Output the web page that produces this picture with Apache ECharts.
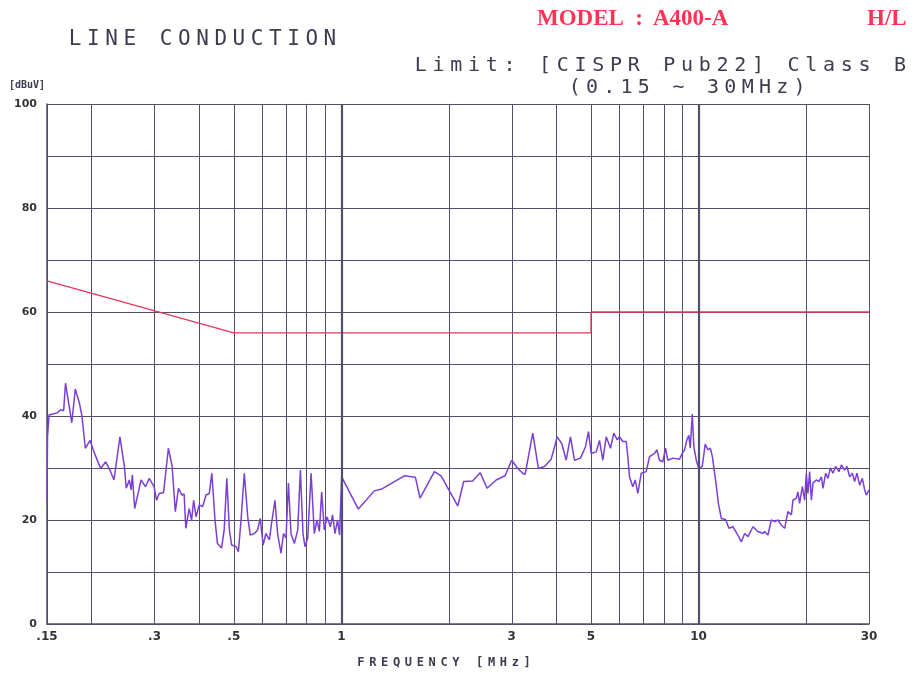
<!DOCTYPE html>
<html>
<head>
<meta charset="utf-8">
<script src="https://cdn.jsdelivr.net/npm/echarts@6/dist/echarts.min.js"></script>
<style>
html,body{margin:0;padding:0;background:#fff;}
#chart{width:917px;height:675px;}
</style>
</head>
<body>
<div id="chart"></div>
<script>
// grid / tick positions of the plotter sheet (MHz)
var gridFreqs=[0.15,0.2,0.3,0.4,0.5,0.6,0.7,0.8,0.9,1,2,3,4,5,6,7,8,9,10,20,30];
var labelFreqs=[0.15,0.3,0.5,1,3,5,10,30];
var labelTexts=['.15','.3','.5','1','3','5','10','30'];

// CISPR 22 class B limit
var limitFreqs=[0.15,0.5,5,5,30];
var limitLevels=[66,56,56,60,60];

// measured trace
var measFreqs=[
0.150,0.1505,0.152,0.160,0.164,0.167,0.169,0.176,0.180,0.185,0.188,0.192,0.198,0.203,0.212,0.219,0.225,0.231,0.240,0.247,
0.250,0.255,0.258,0.260,0.264,0.275,0.283,0.290,0.299,0.304,0.309,0.318,0.328,0.336,0.343,0.350,0.358,0.363,
0.367,0.375,0.381,0.386,0.392,0.400,0.409,0.418,0.427,0.434,0.443,0.450,0.462,0.470,0.478,0.486,0.493,0.507,0.515,0.524,
0.535,0.547,0.556,0.571,0.583,0.593,0.604,0.615,0.629,0.638,0.652,0.663,0.678,0.689,0.700,0.711,0.723,0.739,0.755,0.768,
0.781,0.791,0.805,0.823,0.840,0.855,0.868,0.881,0.896,0.912,0.932,0.945,0.960,0.976,0.989,1.002,
1.116,1.237,1.292,1.501,1.612,1.661,1.822,1.902,2.118,2.201,2.332,2.446,2.559,2.713,2.874,2.999,
3.118,3.220,3.270,3.435,3.563,3.704,3.867,3.933,4.020,4.141,4.260,4.380,4.494,4.672,4.825,4.919,5.005,5.169,5.281,5.394,
5.514,5.669,5.790,5.919,6.007,6.137,6.273,6.339,6.408,6.546,6.648,6.761,6.911,7.137,7.290,
7.529,7.641,7.776,7.943,8.082,8.203,8.472,8.847,9.002,9.136,9.272,9.392,9.478,9.603,9.701,9.854,10.02,10.24,10.44,10.62,
10.79,10.93,11.16,11.36,11.58,11.90,12.16,12.48,12.81,13.18,13.46,13.75,14.20,14.66,15.14,
15.30,15.64,15.98,16.33,16.68,17.05,17.42,17.79,18.19,18.37,18.78,18.97,19.18,19.52,19.81,20.03,20.24,20.46,20.69,20.91,
21.36,21.73,22.07,22.30,22.69,23.03,23.38,23.78,24.20,24.72,25.10,25.64,26.03,26.48,26.95,27.35,27.76,28.25,28.74,29.17,
29.49,30.00];
var measLevels=[
23.5,36,40.2,40.6,41.2,41.0,46.3,38.7,45.2,42.4,39.9,33.8,35.3,33.1,29.9,31.2,29.6,27.7,36.0,30.3,
26.1,27.7,25.8,28.7,22.2,27.7,26.4,28.0,26.4,23.8,25.1,25.3,33.8,30.3,21.6,26.1,24.8,25.0,
18.4,22.2,20.0,23.8,20.6,22.9,22.6,24.8,25.1,29.0,20.0,15.5,14.6,18.1,28.0,18.1,15.2,14.9,13.9,20.0,
29.0,20.6,17.1,17.4,18.1,20.3,15.2,17.4,16.2,19.4,23.8,17.4,13.6,17.4,16.5,27.1,17.4,15.5,18.1,29.6,
17.4,14.9,16.5,29.0,17.4,20.0,17.8,25.4,18.1,20.6,18.7,21.0,17.4,20.0,17.1,28.3,
22.1,25.6,25.9,28.5,28.2,24.2,29.3,28.5,22.7,27.4,27.5,29.1,26.1,27.7,28.5,31.5,
29.9,29.0,28.8,36.7,29.9,30.3,31.7,33.5,36.0,34.7,31.5,36.0,31.5,31.9,34.1,37.0,32.8,33.1,35.3,31.5,
36.0,33.8,36.7,35.4,36.0,35.1,35.1,32.2,28.3,26.4,27.7,25.1,29.0,29.3,32.2,
32.8,33.5,31.5,31.2,33.8,31.5,31.9,31.7,32.8,33.5,35.4,36.3,33.8,40.4,34.1,31.5,29.9,30.3,34.6,33.5,
33.8,32.2,27.7,23.2,20.3,20.1,18.4,18.7,17.4,15.8,17.4,16.8,18.7,17.8,17.4,
17.8,17.1,20.0,19.7,20.0,19.0,18.4,21.6,21.0,23.8,24.2,25.4,23.2,26.4,23.8,29.0,25.1,29.3,23.8,27.1,
27.7,27.4,28.3,26.1,29.0,28.0,30.0,29.0,30.3,29.3,30.6,29.6,30.3,28.3,29.0,27.4,29.0,26.7,28.0,25.8,
24.8,25.8];

function pairs(xs,ys){
	var out=[];
	for(var i=0;i<xs.length;i++){out.push([xs[i],ys[i]]);}
	return out;
}
// plotter style lettering: one glyph per fixed cell
function spacedText(str,x0,y,step,font,color){
	var list=[];
	for(var i=0;i<str.length;i++){
		if(str[i]==' ')continue;
		list.push({type:'text',x:x0+i*step+step/2,y:y,silent:true,
			style:{text:str[i],font:font,fill:color,align:'center',verticalAlign:'middle',textAlign:'center',textVerticalAlign:'middle'}});
	}
	return list;
}
function plainText(str,x,y,font,color,align){
	return {type:'text',x:x,y:y,silent:true,
		style:{text:str,font:font,fill:color,align:align||'left',verticalAlign:'middle',textAlign:align||'left',textVerticalAlign:'middle'}};
}

var ink='#3c3c50';
var gridColor='#505068';
var mono='"DejaVu Sans Mono"';
var red='#ff3355';
var serif='bold 23px "Liberation Serif"';

var graphics=[].concat(
	spacedText('LINE CONDUCTION',66,40,18.2,'21px '+mono,ink),
	spacedText('Limit: [CISPR Pub22] Class B',412,66,17.75,'20px '+mono,ink),
	spacedText('(0.15 ~ 30MHz)',566,88,17.3,'20px '+mono,ink),
	spacedText('FREQUENCY [MHz]',355,663,11.87,'bold 12px '+mono,ink),
	[
		plainText('[dBuV]',9,85,'bold 10px '+mono,ink),
		plainText('MODEL',537,19,serif,red),
		plainText(':',639,19,serif,red,'center'),
		plainText('A400-A',653,19,serif,red),
		plainText('H/L',867,19,serif,red)
	]
);

var chart=echarts.init(document.getElementById('chart'),null,{renderer:'canvas'});
var option={
	backgroundColor:'#ffffff',
	animation:false,
	grid:{left:47,right:48,top:104,bottom:51},
	graphic:graphics,
	xAxis:{
		type:'log',
		logBase:10,
		min:0.15,
		max:30,
		axisLine:{show:true,lineStyle:{color:gridColor,width:1.5}},
		axisTick:{show:true,customValues:gridFreqs,length:0,lineStyle:{color:gridColor}},
		splitLine:{show:true,lineStyle:{color:gridColor,width:1}},
		axisLabel:{
			customValues:labelFreqs,
			margin:7,
			color:'#333',
			fontSize:12,
			fontWeight:'bold',
			fontFamily:'DejaVu Sans',
			formatter:function(v){
				for(var i=0;i<labelFreqs.length;i++){
					if(Math.abs(labelFreqs[i]-v)<1e-6*labelFreqs[i]+1e-9)return labelTexts[i];
				}
				return '';
			}
		}
	},
	yAxis:{
		type:'value',
		min:0,
		max:100,
		interval:10,
		axisLine:{show:true,lineStyle:{color:gridColor,width:1.5}},
		axisTick:{show:false},
		splitLine:{show:true,lineStyle:{color:gridColor,width:1}},
		axisLabel:{
			margin:10,
			color:'#333',
			fontSize:11,
			fontWeight:'bold',
			fontFamily:'DejaVu Sans',
			formatter:function(v){return v%20==0?String(v):'';}
		}
	},
	series:[
		{
			name:'limit',
			type:'line',
			data:pairs(limitFreqs,limitLevels),
			symbol:'none',
			lineStyle:{color:'#e8345a',width:1.3},
			markLine:{
				silent:true,
				symbol:'none',
				label:{show:false},
				lineStyle:{color:gridColor,width:2.2,type:'solid'},
				data:[{xAxis:1},{xAxis:10}]
			},
			z:3
		},
		{
			name:'measured',
			type:'line',
			data:pairs(measFreqs,measLevels),
			symbol:'none',
			lineStyle:{color:'#7a3fd6',width:1.5},
			z:4
		}
	]
};
chart.setOption(option);
</script>
</body>
</html>
